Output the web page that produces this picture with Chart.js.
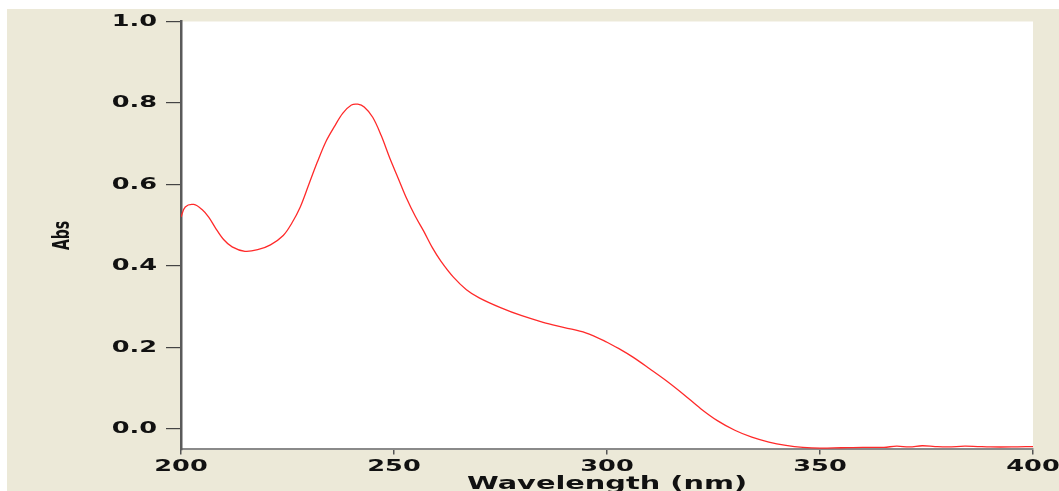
<!DOCTYPE html>
<html><head><meta charset="utf-8">
<script src="https://cdn.jsdelivr.net/npm/chart.js@4"></script>
<style>
html,body{margin:0;padding:0;background:#fff;overflow:hidden;width:1059px;height:491px;}
#wrap{position:absolute;left:7px;top:9px;width:1052px;height:500px;background:#ece9d8;}
canvas{display:block;}
</style></head><body>
<div id="wrap"><canvas id="c" width="1052" height="500"></canvas></div>
<script>
const wavelengths = [200,201,203,205,206.5,208,210,212,215,218,221,224,226,228,230,232,234,236,238,240,241.5,243,245,247,249,251,253,255,257,259,261,264,267,270,275,280,285,290,295,300,303,306,310,314,318,322,326,330,334,338,342,346,350,355,360,365,368,371,374,377,380,384,387,390,395,400];
const absorbance = [0.520,0.545,0.551,0.538,0.520,0.495,0.465,0.447,0.436,0.440,0.452,0.475,0.505,0.545,0.600,0.655,0.705,0.742,0.775,0.795,0.797,0.790,0.765,0.720,0.665,0.615,0.565,0.522,0.485,0.445,0.412,0.372,0.342,0.322,0.298,0.278,0.262,0.249,0.236,0.213,0.196,0.177,0.148,0.118,0.085,0.050,0.020,-0.003,-0.020,-0.032,-0.040,-0.045,-0.047,-0.046,-0.045,-0.045,-0.042,-0.044,-0.041,-0.043,-0.044,-0.042,-0.043,-0.044,-0.044,-0.043];
const xTicks = [200,250,300,350,400];
const yTicks = [0.0,0.2,0.4,0.6,0.8,1.0];
const xTitle = 'Wavelength (nm)';
const yTitle = 'Abs';

const canvas = document.getElementById('c');
const ctx = canvas.getContext('2d');
const STRETCH = 1.6;
const origFill = ctx.fillText;
ctx.fillText = function(text, x, y, mw){
  const m = this.getTransform();
  const px = m.a*x + m.c*y + m.e;
  const py = m.b*x + m.d*y + m.f;
  this.save();
  const lin = new DOMMatrix([m.a, m.b, m.c, m.d, 0, 0]);
  this.setTransform(new DOMMatrix().translate(px, py).scale(STRETCH, 1).multiply(lin));
  origFill.call(this, text, 0, 0);
  this.restore();
};

const whiteArea = {
  id: 'whiteArea',
  beforeDraw(chart){
    const a = chart.chartArea, c = chart.ctx;
    c.save(); c.fillStyle = '#ffffff';
    c.fillRect(a.left, a.top, a.right - a.left, a.bottom - a.top);
    c.restore();
  }
};

const tickFont = {family: 'DejaVu Sans', size: 16, weight: 'bold'};

new Chart(ctx, {
  type: 'line',
  data: {
    datasets: [{
      data: wavelengths.map((w, i) => ({x: w, y: absorbance[i]})),
      borderColor: '#ff2a2a',
      borderWidth: 1.3,
      pointRadius: 0,
      tension: 0.35,
      fill: false
    }]
  },
  options: {
    responsive: false,
    devicePixelRatio: 1,
    animation: false,
    layout: {padding: {top: 12.5, right: 26, left: 0, bottom: 0}},
    plugins: {legend: {display: false}, tooltip: {enabled: false}, title: {display: false}},
    scales: {
      x: {
        type: 'linear', min: 200, max: 400,
        afterBuildTicks(s){ s.ticks = xTicks.map(v => ({value: v})); },
        afterFit(s){ s.height = 59.6; s.paddingLeft = 0; s.paddingRight = 0; },
        grid: {drawOnChartArea: false, drawTicks: true, tickLength: 5, color: '#555', lineWidth: 1.5},
        border: {display: true, color: '#8a8a8a', width: 2},
        ticks: {color: '#111', font: tickFont, padding: 3, maxRotation: 0, autoSkip: false,
          callback: v => String(v)},
        title: {display: true, text: xTitle, color: '#111',
          font: {family: 'DejaVu Sans', size: 18, weight: 'bold'}, padding: {top: 0, bottom: 14}}
      },
      y: {
        type: 'linear', min: -0.05, max: 1.0,
        afterBuildTicks(s){ s.ticks = yTicks.map(v => ({value: v})); },
        afterFit(s){ s.width = 174; s.paddingTop = 0; s.paddingBottom = 0; },
        grid: {drawOnChartArea: false, drawTicks: true, tickLength: 15, color: '#444', lineWidth: 1.2},
        border: {display: true, color: '#5a5a5a', width: 2.5},
        ticks: {color: '#111', font: tickFont, padding: 9, callback: v => Number(v).toFixed(1)},
        title: {display: true, text: yTitle, color: '#111',
          font: {family: 'DejaVu Sans', size: 14, weight: 'bold'}, padding: {top: 48, bottom: 0}}
      }
    }
  },
  plugins: [whiteArea]
});
</script>
</body></html>
